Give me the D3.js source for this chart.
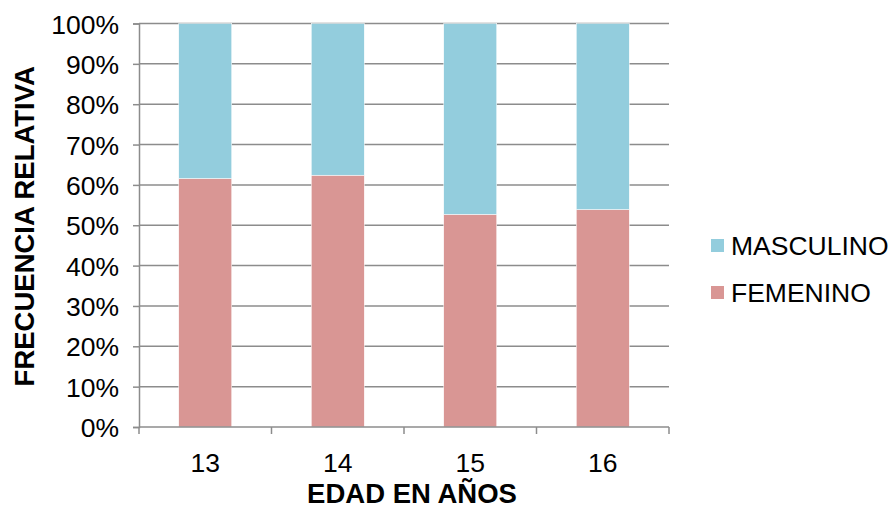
<!DOCTYPE html>
<html>
<head>
<meta charset="utf-8">
<script src="https://cdn.jsdelivr.net/npm/d3@7"></script>
<style>
  body { margin: 0; background: #fff; }
  text { font-family: "Liberation Sans", Arial, sans-serif; fill: #000; }
</style>
</head>
<body>
<svg id="chart" width="893" height="508"></svg>
<script>
// data
var edades = ["13", "14", "15", "16"];
var femenino = [0.616, 0.624, 0.527, 0.539];
var masculino = [0.384, 0.376, 0.473, 0.461];
var yTicks = [0, 0.1, 0.2, 0.3, 0.4, 0.5, 0.6, 0.7, 0.8, 0.9, 1];
var series = ["FEMENINO", "MASCULINO"];
var colores = { MASCULINO: "#93cddd", FEMENINO: "#d99694" };

function drawChart() {
    var svg = d3.select("#chart");
    var mLeft = 139, mRight = 669, mTop = 23.5, mBottom = 427;
    var gris = "#8c8c8c";

    var x = d3.scaleBand()
        .domain(edades)
        .range([mLeft, mRight])
        .paddingInner(0.6)
        .paddingOuter(0.3);

    var y = d3.scaleLinear()
        .domain([0, 1])
        .range([mBottom, mTop]);

    // horizontal gridlines
    svg.append("g")
        .selectAll("line")
        .data(yTicks.slice(1))
        .enter()
        .append("line")
        .attr("x1", mLeft)
        .attr("x2", mRight)
        .attr("y1", (d) => y(d))
        .attr("y2", (d) => y(d))
        .attr("stroke", gris)
        .attr("stroke-width", 1.5);

    // stacked bars
    var tabla = edades.map((e, i) => ({ edad: e, FEMENINO: femenino[i], MASCULINO: masculino[i] }));
    var stack = d3.stack().keys(series)(tabla);

    svg.append("g")
        .selectAll("g")
        .data(stack)
        .enter()
        .append("g")
        .attr("fill", (d) => colores[d.key])
        .selectAll("rect")
        .data((d) => d)
        .enter()
        .append("rect")
        .attr("x", (d) => x(d.data.edad))
        .attr("width", x.bandwidth())
        .attr("y", (d) => y(d[1]))
        .attr("height", (d) => y(d[0]) - y(d[1]))
        .attr("stroke", "#fff")
        .attr("stroke-width", 0.5);

    // y axis
    var yAxis = svg.append("g")
        .attr("transform", "translate(" + mLeft + ",0)")
        .call(d3.axisLeft(y).tickValues(yTicks).tickFormat(d3.format(".0%")).tickSize(6).tickPadding(14));
    yAxis.selectAll("text").style("font-size", "26.5px").attr("dy", "0.36em");
    yAxis.select(".domain").attr("stroke", gris).attr("stroke-width", 1.5);
    yAxis.selectAll(".tick line").attr("stroke", gris).attr("stroke-width", 1.5);

    // x axis, ticks at band boundaries
    var xAxis = svg.append("g")
        .attr("transform", "translate(0," + mBottom + ")");
    xAxis.append("line")
        .attr("x1", mLeft).attr("x2", mRight)
        .attr("stroke", gris).attr("stroke-width", 1.5);
    var bordes = edades.map((e) => x(e) - x.step() * x.paddingInner() / 2);
    bordes.push(mRight);
    xAxis.selectAll(".tk")
        .data(bordes)
        .enter()
        .append("line")
        .attr("class", "tk")
        .attr("x1", (d) => d).attr("x2", (d) => d)
        .attr("y1", 0).attr("y2", 7)
        .attr("stroke", gris).attr("stroke-width", 1.5);
    xAxis.selectAll(".lbl")
        .data(edades)
        .enter()
        .append("text")
        .attr("class", "lbl")
        .attr("x", (d) => x(d) + x.bandwidth() / 2)
        .attr("y", 45)
        .attr("text-anchor", "middle")
        .style("font-size", "26.5px")
        .text((d) => d);

    // axis titles
    svg.append("text")
        .attr("x", (mLeft + mRight) / 2 + 8)
        .attr("y", 503)
        .attr("text-anchor", "middle")
        .style("font-size", "27.5px")
        .style("font-weight", "bold")
        .text("EDAD EN AÑOS");

    svg.append("text")
        .attr("transform", "translate(34," + ((mTop + mBottom) / 2 + 1) + ") rotate(-90)")
        .attr("text-anchor", "middle")
        .style("font-size", "27.5px")
        .style("font-weight", "bold")
        .text("FRECUENCIA RELATIVA");

    // legend
    var leyenda = ["MASCULINO", "FEMENINO"];
    var lg = svg.append("g")
        .selectAll("g")
        .data(leyenda)
        .enter()
        .append("g")
        .attr("transform", (d, i) => "translate(711," + (245 + i * 47) + ")");
    lg.append("rect")
        .attr("x", 0).attr("y", -6)
        .attr("width", 13).attr("height", 13)
        .attr("fill", (d) => colores[d]);
    lg.append("text")
        .attr("x", 20)
        .attr("dy", "0.36em")
        .style("font-size", "26.5px")
        .text((d) => d);
}

drawChart();
</script>
</body>
</html>
